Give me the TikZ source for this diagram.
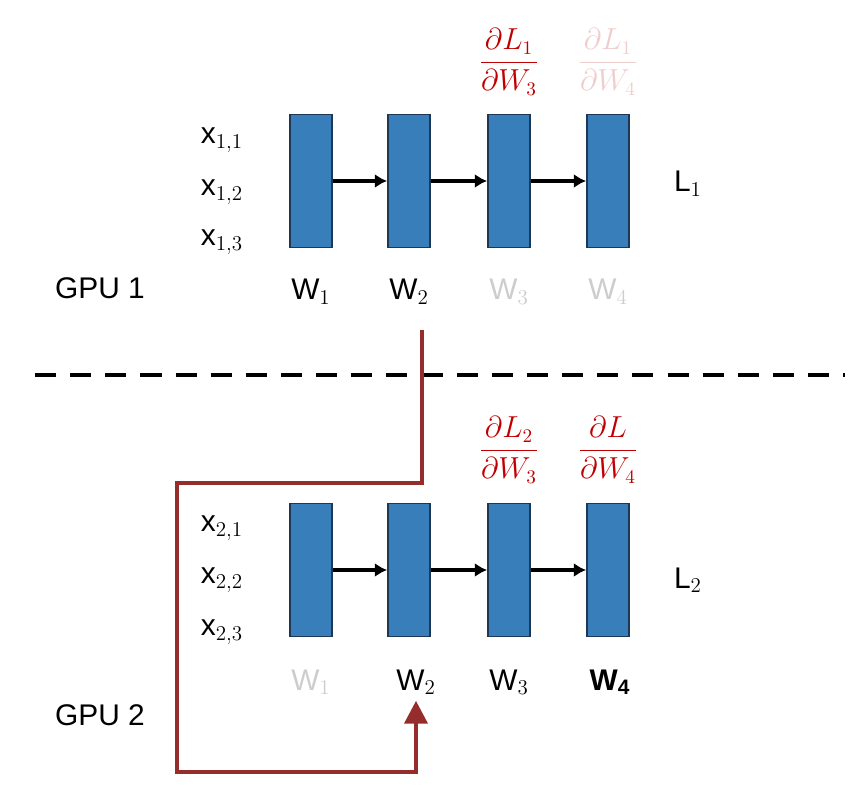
\documentclass[tikz,border=0pt]{standalone}
\usepackage{amsmath}
\usepackage{fontspec}
\setmainfont{Liberation Sans}
\usetikzlibrary{positioning,arrows.meta}
\definecolor{layerblue}{RGB}{55,126,186}
\definecolor{layeredge}{RGB}{30,55,85}
\definecolor{gradred}{RGB}{192,0,0}
\definecolor{pathred}{RGB}{150,45,45}
\definecolor{fadegrey}{RGB}{205,205,205}
\definecolor{fadered}{RGB}{240,205,205}
\begin{document}
\begin{tikzpicture}[x=0.02cm,y=-0.02cm,
		layer/.style = {
			rectangle,
			draw = layeredge,
			fill = layerblue,
			line width = 1pt,
			minimum width = 0.84cm,
			minimum height = 2.66cm
		},
		txt/.style = {font=\fontsize{17}{20}\selectfont},
		grad/.style = {font=\fontsize{16}{19}\selectfont, text=gradred},
		flow/.style = {-{Latex[length=7pt,width=8pt]}, line width=2.2pt}
	]
	\useasboundingbox (0,0) rectangle (868,790);
	% GPU 1
	\foreach \i/\x in {1/311,2/409,3/509,4/608}
		\node[layer] (A\i) at (\x,181) {};
	\foreach \i/\j in {1/2,2/3,3/4}
		\draw[flow] (A\i) -- (A\j);
	\node[txt]                  (wa1) at (311,292) {W$_1$};
	\node[txt]                  (wa2) at (409,292) {W$_2$};
	\node[txt, text=fadegrey]   (wa3) at (509,292) {W$_3$};
	\node[txt, text=fadegrey]   (wa4) at (608,292) {W$_4$};
	\node[txt] (xa1) at (222,140) {x$_{1,1}$};
	\node[txt] (xa2) at (222,192) {x$_{1,2}$};
	\node[txt] (xa3) at (222,242) {x$_{1,3}$};
	\node[txt] (La)  at (688,184) {L$_1$};
	\node[txt] (gpua) at (100,288) {GPU 1};
	\node[grad]               (ga3) at (509,62) {$\dfrac{\partial L_1}{\partial W_3}$};
	\node[grad, text=fadered] (ga4) at (608,62) {$\dfrac{\partial L_1}{\partial W_4}$};
	% separator
	\draw[line width=1.8pt, dash pattern=on 12pt off 8pt] (35,375) -- (845,375);
	% GPU 2
	\foreach \i/\x in {1/311,2/409,3/509,4/608}
		\node[layer] (B\i) at (\x,570) {};
	\foreach \i/\j in {1/2,2/3,3/4}
		\draw[flow] (B\i) -- (B\j);
	\node[txt, text=fadegrey] (wb1) at (311,682) {W$_1$};
	\node[txt]                (wb2) at (416,682) {W$_2$};
	\node[txt]                (wb3) at (509,682) {W$_3$};
	\node[txt]                (wb4) at (610,682) {\textbf{W$_\mathbf{4}$}};
	\node[txt] (xb1) at (222,528) {x$_{2,1}$};
	\node[txt] (xb2) at (222,580) {x$_{2,2}$};
	\node[txt] (xb3) at (222,632) {x$_{2,3}$};
	\node[txt] (Lb)  at (688,580) {L$_2$};
	\node[txt] (gpub) at (100,715) {GPU 2};
	\node[grad] (gb3) at (509,450) {$\dfrac{\partial L_2}{\partial W_3}$};
	\node[grad] (gb4) at (608,450) {$\dfrac{\partial L}{\partial W_4}$};
	% transfer path
	\draw[pathred, line width=2.4pt, -{Triangle[length=13pt,width=13pt]}]
		(422,330) |- (177,483) |- (416,772) -- (wb2.south);
\end{tikzpicture}
\end{document}
